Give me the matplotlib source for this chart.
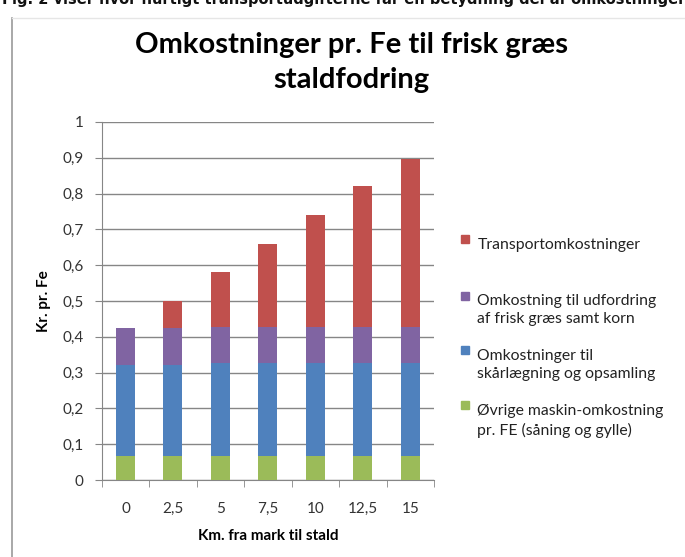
import matplotlib.pyplot as plt
import numpy as np
from matplotlib.lines import Line2D

# ------------------------------------------------------------
# Data
# ------------------------------------------------------------

distances = ["0", "2,5", "5", "7,5", "10", "12,5", "15"]

oevrige = [0.067, 0.067, 0.067, 0.067, 0.067, 0.067, 0.067]
skaarlaegning = [0.255, 0.255, 0.259, 0.259, 0.259, 0.259, 0.259]
udfordring = [0.102, 0.102, 0.101, 0.101, 0.101, 0.101, 0.101]
transport = [0.0, 0.076, 0.153, 0.233, 0.313, 0.393, 0.469]

series = [
    ("Øvrige maskin-omkostning\npr. FE (såning og gylle)", oevrige, "#9BBB59"),
    ("Omkostninger til\nskårlægning og opsamling", skaarlaegning, "#4F81BD"),
    ("Omkostning til udfordring\naf frisk græs samt korn", udfordring, "#8064A2"),
    ("Transportomkostninger", transport, "#C0504D"),
]

yticks = [0, 0.1, 0.2, 0.3, 0.4, 0.5, 0.6, 0.7, 0.8, 0.9, 1]
ytick_labels = ["0", "0,1", "0,2", "0,3", "0,4", "0,5", "0,6", "0,7", "0,8", "0,9", "1"]

# ------------------------------------------------------------
# Plot
# ------------------------------------------------------------

plt.rcParams["font.family"] = ["Lato", "DejaVu Sans"]

fig = plt.figure(figsize=(6.85, 5.57), dpi=100)
ax = fig.add_axes([0.1485, 0.1382, 0.4851, 0.6428])

x = np.arange(len(distances))
bottom = np.zeros(len(distances))
handles = []
for label, vals, color in series:
    ax.bar(x, vals, width=0.4, bottom=bottom, color=color, zorder=3)
    bottom += np.array(vals)
    handles.append((label, color))

ax.set_xlim(-0.5, len(distances) - 0.5)
ax.set_ylim(0, 1)
ax.set_yticks(yticks)
ax.set_yticklabels(ytick_labels, fontsize=11, color="#333333")
ax.set_xticks(x)
ax.set_xticklabels(distances, fontsize=11, color="#333333")
ax.set_xticks(np.arange(-0.5, len(distances), 1), minor=True)
ax.tick_params(axis="x", which="major", length=0, pad=16)
ax.tick_params(axis="x", which="minor", length=5, color="#868686", direction="out")
ax.tick_params(axis="y", length=5, color="#868686", pad=8)

ax.grid(axis="y", color="#868686", linewidth=1, zorder=0)
for side in ["top", "right"]:
    ax.spines[side].set_visible(False)
for side in ["left", "bottom"]:
    ax.spines[side].set_color("#868686")

ax.set_xlabel("Km. fra mark til stald", fontsize=11, fontweight="bold", labelpad=9)
ax.set_ylabel("Kr. pr. Fe", fontsize=11, fontweight="bold", labelpad=8)

fig.text(0.513, 0.92, "Omkostninger pr. Fe til frisk græs", ha="center", va="center",
         fontsize=21, fontweight="bold")
fig.text(0.513, 0.857, "staldfodring", ha="center", va="center",
         fontsize=21, fontweight="bold")

# Legend (top to bottom: transport first)
leg_y = [0.569, 0.468, 0.370, 0.271]
for (label, color), y in zip(reversed(handles), leg_y):
    fig.patches.append(plt.Rectangle((0.673, y - 0.006), 0.0115, 0.0145, color=color,
                                     transform=fig.transFigure, figure=fig))
    fig.text(0.697, y + 0.004, label, ha="left", va="top", fontsize=11.3,
             color="#222222", linespacing=1.4)

# Frame around chart and cut-off caption above
fig.add_artist(Line2D([0.0175, 0.0175], [0, 0.968], color="#9a9a9a", linewidth=1.2))
fig.add_artist(Line2D([0.0175, 1.0], [0.968, 0.968], color="#e6e6e6", linewidth=1))
fig.text(0.003, 0.988, "Fig. 2 viser hvor hurtigt transportudgifterne får en betydning del af omkostningerne",
         ha="left", va="bottom", fontsize=10.5, fontweight="bold", color="#111111",
         family="DejaVu Sans")

fig.savefig("out.png", dpi=100)
plt.close(fig)
